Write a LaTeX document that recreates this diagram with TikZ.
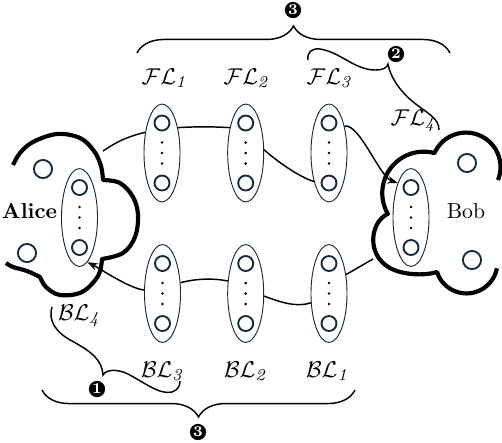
\documentclass[tikz,border=0pt]{standalone}
\usetikzlibrary{shapes.geometric,decorations.pathreplacing,arrows.meta}
\definecolor{navy}{RGB}{22,42,62}
\newcommand\relaynode[3]{%
  \node[relay] (#1) at (#2,#3) {};
  \node[hole] (#1u) at (#2,#3-30) {};
  \node[hole] (#1d) at (#2,#3+30) {};
  \node[dotm] (#1p) at (#2,#3-10.5) {};
  \node[dotm] (#1q) at (#2,#3) {};
  \node[dotm] (#1r) at (#2,#3+10.5) {};
}
\begin{document}
\begin{tikzpicture}[x=0.48pt,y=-0.48pt,
  relay/.style={ellipse,draw=navy,line width=0.45pt,minimum width=17.3pt,minimum height=47pt,inner sep=0pt},
  hole/.style={circle,draw=navy,line width=0.9pt,minimum size=7.2pt,inner sep=0pt},
  bighole/.style={circle,draw=navy,line width=0.9pt,minimum size=8.7pt,inner sep=0pt},
  dotm/.style={circle,fill=black,minimum size=1.4pt,inner sep=0pt},
  link/.style={line width=0.7pt},
  arr/.style={-{Stealth[length=5pt,width=3.6pt]}},
  cloudline/.style={line width=2pt,line join=round},
  num/.style={circle,fill=black,text=white,font=\fontsize{7.2}{7.2}\selectfont\bfseries,inner sep=0pt,minimum size=7.8pt},
  lab/.style={inner sep=0pt,font=\fontsize{11.3}{13}\selectfont},
  who/.style={inner sep=0pt,font=\fontsize{10.4}{12}\selectfont},
  brc/.style={line width=0.7pt,decorate,decoration={brace,amplitude=13pt}},
  bent/.style={line width=0.7pt}
]
\useasboundingbox (0,0) rectangle (502,442);

% clouds
\draw[cloudline]
  plot[smooth,tension=0.6] coordinates {(13,165) (20,153) (33,142) (57,134) (80,138) (94,151) (101,166) (103,180)}
  -- plot[smooth,tension=0.6] coordinates {(103,180) (120,183) (133,197) (138,215) (135,237) (123,253) (102,259)}
  -- plot[smooth,tension=0.6] coordinates {(102,259) (98,276) (82,292) (60,295) (46,287) (40,277)}
  -- plot[smooth,tension=0.6] coordinates {(40,277) (27,271) (13,267) (6,263)};
\draw[cloudline] (498,180) arc[start angle=22,end angle=-156,radius=34.5]
  arc[start angle=-75,end angle=-210,radius=41.5]
  .. controls (370,222) and (366,255) .. (390,268)
  .. controls (403,275) and (424,276) .. (437,272)
  arc[start angle=162,end angle=11,radius=31];

% outer holes and names
\node[bighole] (ah1) at (43,169) {};
\node[bighole] (ah2) at (27,253) {};
\node[bighole] (bh1) at (467,163) {};
\node[bighole] (bh2) at (472,260) {};
\node[who] (alice) at (29.5,211) {\textbf{Alice}};
\node[who] (bob) at (466,211) {Bob};

% relays
\relaynode{A}{79.5}{217.5}
\relaynode{B}{411}{217.5}
\relaynode{F1}{162}{153}
\relaynode{F2}{245.7}{153}
\relaynode{F3}{329}{153}
\relaynode{L1}{329}{293.5}
\relaynode{L2}{245.7}{293.5}
\relaynode{L3}{162.5}{293.5}

% forward path
\coordinate (ac) at (103,151);
\draw[link] (ac) to[bend left=10] (F1.129);
\draw[link] (F1.58) to[bend left=3] (F2.122);
\draw[link] (F2.10) .. controls +(12,11) and +(-14,-4) .. (F3.242);
\draw[link,arr] (F3.60) .. controls +(15,-3) and +(-18,-6) .. (B.111);

% backward path
\coordinate (bc) at (373,259);
\draw[link] (bc) -- (L1.48);
\draw[link] (L1.207) .. controls +(-14,5) and +(16,6) .. (L2.-8);
\draw[link] (L2.145) .. controls +(-15,-3) and +(15,-4) .. (L3.31);
\draw[link,arr] (L3.169) .. controls +(-14,-1) and +(12,6) .. (A.-80);

% labels
\node[lab] (fl1) at (165,78) {$\mathcal{F}\mathcal{L}_{\mathit{1}}$};
\node[lab] (fl2) at (247,78) {$\mathcal{F}\mathcal{L}_{\mathit{2}}$};
\node[lab] (fl3) at (330,78) {$\mathcal{F}\mathcal{L}_{\mathit{3}}$};
\node[lab] (fl4) at (414,121) {$\mathcal{F}\mathcal{L}_{\mathit{4}}$};
\node[lab] (bl4) at (80,316) {$\mathcal{B}\mathcal{L}_{\mathit{4}}$};
\node[lab] (bl3) at (163,371) {$\mathcal{B}\mathcal{L}_{\mathit{3}}$};
\node[lab] (bl2) at (246,371) {$\mathcal{B}\mathcal{L}_{\mathit{2}}$};
\node[lab] (bl1) at (328,371) {$\mathcal{B}\mathcal{L}_{\mathit{1}}$};

% braces
\coordinate (t1) at (137,53);
\coordinate (t2) at (450,53);
\draw[brc] (t1) -- (t2);
\node[num] (n3a) at (293,10) {3};
\coordinate (u1) at (355,390);
\coordinate (u2) at (42,390);
\draw[brc] (u1) -- (u2);
\node[num] (n3b) at (198,432) {3};

\coordinate (k1) at (308,60);
\coordinate (k2) at (388,64);
\coordinate (k3) at (439,130);
\draw[bent] (k1) .. controls (307,52) and (312,48) .. (320,49)
  .. controls (340,52) and (355,70) .. (375,70)
  .. controls (383,70) and (387,68) .. (k2)
  .. controls (390,75) and (397,88) .. (412,101)
  .. controls (428,114) and (439,118) .. (k3);
\node[num] (n2) at (396,54) {2};

\coordinate (m1) at (52,307);
\coordinate (m2) at (103,375);
\coordinate (m3) at (180,381);
\draw[bent] (m1) .. controls (48,320) and (55,332) .. (72,341)
  .. controls (92,352) and (102,360) .. (m2)
  .. controls (106,369) and (118,369) .. (128,374)
  .. controls (145,383) and (160,395) .. (172,392)
  .. controls (178,390) and (180,386) .. (m3);
\node[num] (n1) at (97,389) {1};
\end{tikzpicture}
\end{document}
